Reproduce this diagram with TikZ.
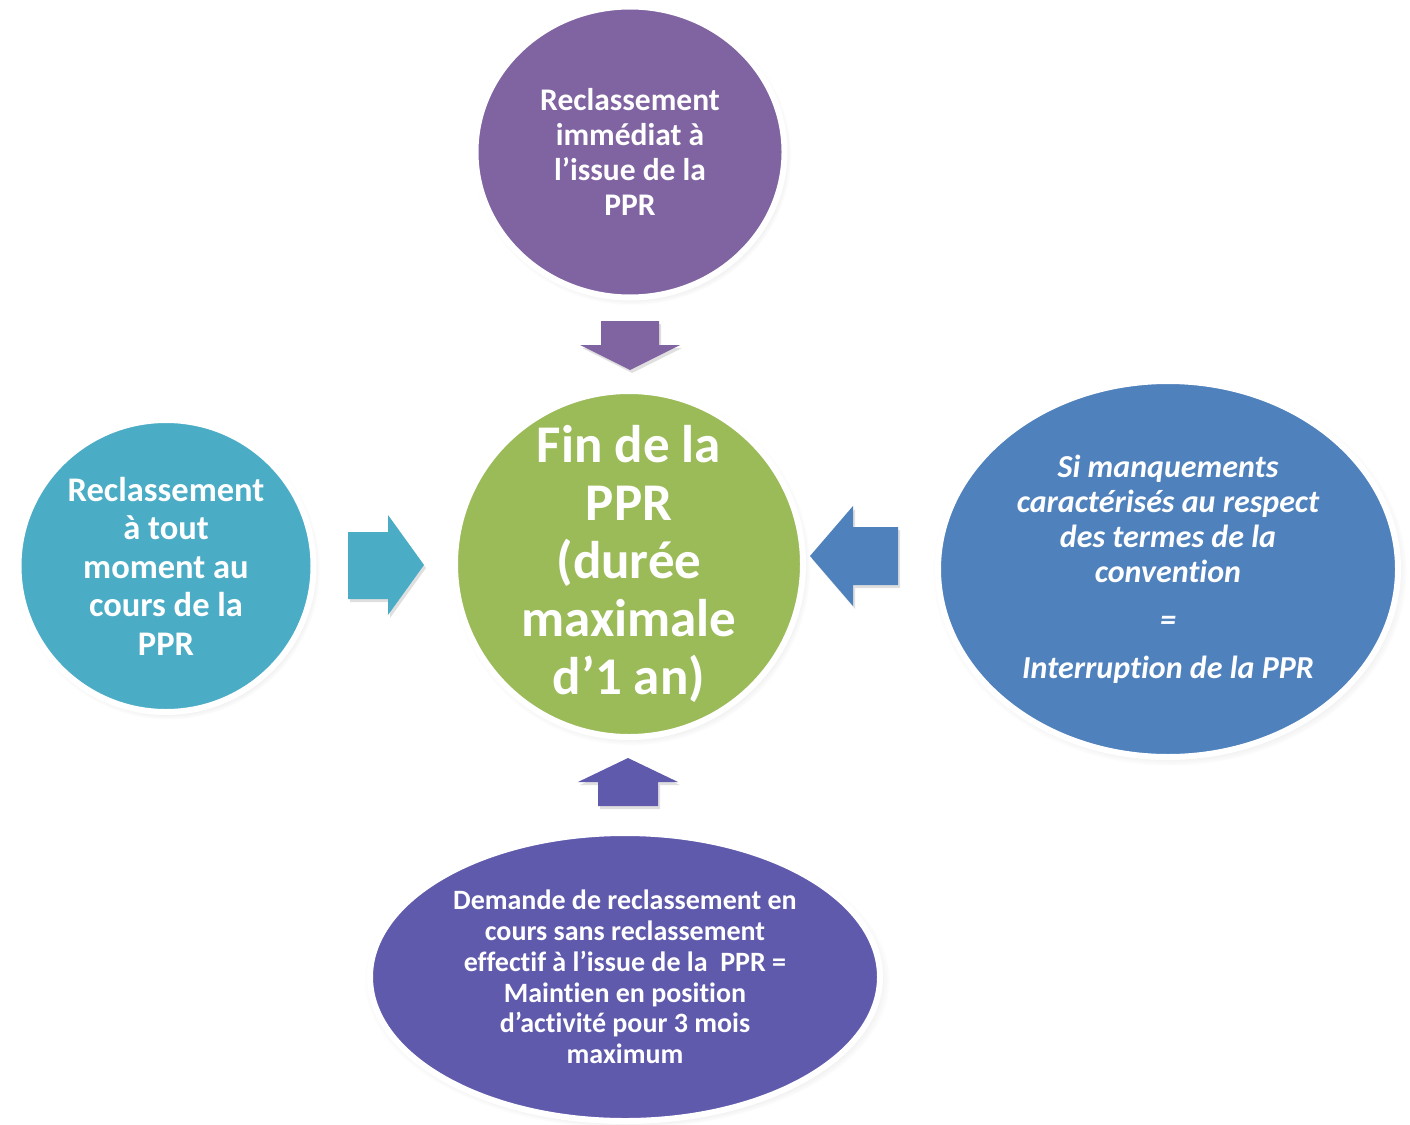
\documentclass[tikz,border=0pt]{standalone}
\usepackage{fontspec}
\setmainfont{Carlito}[Ligatures=NoCommon,RawFeature={-liga}]
\usetikzlibrary{shapes.geometric,shadows,positioning,calc}
\definecolor{ppurple}{RGB}{128,100,162}
\definecolor{pgreen}{RGB}{155,187,89}
\definecolor{paqua}{RGB}{75,172,198}
\definecolor{pblue}{RGB}{79,129,189}
\definecolor{pindigo}{RGB}{95,90,172}

\begin{document}
\begin{tikzpicture}[x=1pt,y=-1pt,
  bubble/.style={ellipse,draw=white,line width=6pt,inner sep=0pt,
    circular drop shadow={shadow scale=1.03,shadow xshift=2pt,shadow yshift=-3pt,opacity=0.4}},
  txt/.style={align=center,text=white,inner sep=0pt},
  blockarrow/.style={drop shadow={shadow xshift=2pt,shadow yshift=-3pt,opacity=0.25}}]
\useasboundingbox (0,0) rectangle (1410,1124);

% les bulles
\node[bubble,fill=ppurple,minimum width=309pt,minimum height=291pt] (immediat) at (630,152) {};
\node[bubble,fill=pgreen,minimum width=348pt,minimum height=346pt] (fin) at (629,564) {};
\node[bubble,fill=paqua,minimum width=295pt,minimum height=292pt] (tout) at (166,566) {};
\node[bubble,fill=pblue,minimum width=460pt,minimum height=376pt] (manque) at (1168,569) {};
\node[bubble,fill=pindigo,minimum width=510pt,minimum height=288pt] (demande) at (625,977) {};

% les textes
\node[txt,font=\fontsize{31.5}{35}\selectfont\bfseries] (immediatT) at (immediat.center)
  {Reclassement\\immédiat à\\l’issue de la\\PPR};
\node[txt,font=\fontsize{53}{58}\selectfont\bfseries] (finT) at (fin.center)
  {Fin de la\\PPR\\(durée\\maximale\\d’1 an)};
\node[txt,font=\fontsize{34.5}{38.5}\selectfont\bfseries] (toutT) at (tout.center)
  {Reclassement\\à tout\\moment au\\cours de la\\PPR};
\node[txt,font=\fontsize{32}{35}\selectfont\bfseries\itshape] (manqueT) at (manque.center)
  {Si manquements\\caractérisés au respect\\des termes de la\\convention\\[13pt]=\\[13pt]Interruption de la PPR};
\node[txt,font=\fontsize{28}{30.8}\selectfont\bfseries] (demandeT) at (demande.center)
  {Demande de reclassement en\\cours sans reclassement\\effectif à l’issue de la\ \ PPR =\\Maintien en position\\d’activité pour 3 mois\\maximum};

% les fleches
\coordinate (tipTop) at (630,370);
\coordinate (tipLeft) at (424,565);
\coordinate (tipRight) at (810,556);
\coordinate (tipBottom) at (628,758);
\fill[ppurple,blockarrow] (tipTop) -- ++(-50,-25) -- ++(21,0) -- ++(0,-24) -- ++(58,0) -- ++(0,24) -- ++(21,0) -- cycle;
\fill[paqua,blockarrow] (tipLeft) -- ++(-36,-50) -- ++(0,17) -- ++(-40,0) -- ++(0,67) -- ++(40,0) -- ++(0,16) -- cycle;
\fill[pblue,blockarrow] (tipRight) -- ++(43,-50) -- ++(0,21) -- ++(45,0) -- ++(0,58) -- ++(-45,0) -- ++(0,21) -- cycle;
\fill[pindigo,blockarrow] (tipBottom) -- ++(-50,24) -- ++(20,0) -- ++(0,24) -- ++(60,0) -- ++(0,-24) -- ++(20,0) -- cycle;
\end{tikzpicture}
\end{document}
